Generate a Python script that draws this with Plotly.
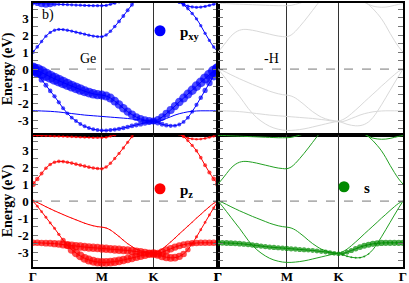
import plotly.graph_objects as go
from plotly.subplots import make_subplots

# ---------------- data ----------------
HS_LABELS = ["Γ", "M", "K", "Γ"]
HS_INDEX = [0, 16, 28, 43]          # k-point index of high-symmetry points
N_K = 44
ENERGY_TICKS = [-3, -2, -1, 0, 1, 2, 3]
ENERGY_TICK_TEXT = ["-3", "-2", "-1", "0", "1", "2", "3"]
E_RANGE = [-3.87, 3.88]

# band energies (eV) along Γ-M-K-Γ
VB1 = [0, -0.08, -0.2, -0.33, -0.45, -0.57, -0.68, -0.79, -0.9, -1.0, -1.1, -1.2, -1.3, -1.38, -1.45, -1.5, -1.53,
       -1.58, -1.7, -1.88, -2.08, -2.3, -2.5, -2.67, -2.82, -2.92, -2.99, -3.03, -3.05,
       -2.97, -2.82, -2.62, -2.4, -2.17, -1.93, -1.7, -1.47, -1.24, -1.0, -0.78, -0.55, -0.33, -0.13, 0]
VB2 = [0, -0.3, -0.62, -0.95, -1.28, -1.6, -1.95, -2.3, -2.6, -2.85, -3.05, -3.22, -3.36, -3.46, -3.53, -3.58, -3.6,
       -3.6, -3.58, -3.55, -3.51, -3.46, -3.4, -3.34, -3.28, -3.22, -3.16, -3.11, -3.07,
       -3.15, -3.24, -3.3, -3.33, -3.32, -3.25, -3.1, -2.85, -2.5, -2.1, -1.68, -1.25, -0.82, -0.4, 0]
VB3 = [-2.45, -2.45, -2.46, -2.47, -2.48, -2.5, -2.52, -2.55, -2.58, -2.61, -2.64, -2.67, -2.7, -2.72, -2.74, -2.76, -2.78,
       -2.8, -2.82, -2.84, -2.86, -2.88, -2.9, -2.93, -2.96, -2.99, -3.03, -3.07, -3.1,
       -3.08, -3.0, -2.9, -2.8, -2.7, -2.62, -2.56, -2.51, -2.48, -2.46, -2.45, -2.45, -2.45, -2.45, -2.45]
CB1 = [1.0, 1.3, 1.62, 1.93, 2.15, 2.28, 2.33, 2.32, 2.28, 2.23, 2.17, 2.11, 2.05, 1.99, 1.94, 1.91, 1.9,
       2.0, 2.22, 2.5, 2.8, 3.12, 3.45, 3.78, 4.1, 4.4, 4.7, 4.9, 5.0,
       4.9, 4.75, 4.55, 4.35, 4.15, 3.97, 3.78, 3.55, 3.27, 2.95, 2.55, 2.1, 1.68, 1.3, 1.0]
CB2 = [3.85, 3.85, 3.84, 3.83, 3.82, 3.81, 3.8, 3.79, 3.78, 3.77, 3.76, 3.75, 3.74, 3.73, 3.72, 3.72, 3.72,
       3.74, 3.8, 3.87, 3.95, 4.05, 4.15, 4.25, 4.35, 4.45, 4.55, 4.6, 4.65,
       4.6, 4.5, 4.35, 4.2, 4.05, 3.92, 3.8, 3.7, 3.65, 3.63, 3.64, 3.68, 3.74, 3.8, 3.85]

# orbital projection weights (0..1)
PXY_VB1 = [1.0, 1.0, 0.98, 0.96, 0.94, 0.92, 0.9, 0.88, 0.86, 0.84, 0.82, 0.8, 0.78, 0.76, 0.74, 0.72, 0.7,
           0.69, 0.68, 0.67, 0.66, 0.65, 0.64, 0.62, 0.6, 0.58, 0.57, 0.56, 0.55,
           0.56, 0.58, 0.6, 0.62, 0.64, 0.66, 0.68, 0.7, 0.72, 0.74, 0.76, 0.78, 0.82, 0.88, 0.95]
PXY_VB2 = [0.9, 0.6, 0.45, 0.38, 0.35, 0.33, 0.32, 0.31, 0.3, 0.3, 0.3, 0.3, 0.3, 0.3, 0.3, 0.3, 0.3,
           0.31, 0.32, 0.33, 0.34, 0.35, 0.36, 0.37, 0.38, 0.4, 0.42, 0.44, 0.45,
           0.42, 0.38, 0.35, 0.32, 0.3, 0.3, 0.3, 0.3, 0.3, 0.32, 0.35, 0.4, 0.5, 0.7, 0.9]
PXY_VB3 = [0, 0, 0, 0, 0, 0, 0, 0, 0, 0, 0, 0, 0, 0, 0, 0, 0,
           0, 0, 0, 0, 0, 0, 0, 0, 0, 0, 0, 0,
           0, 0, 0, 0, 0, 0, 0, 0, 0, 0, 0, 0, 0, 0, 0]
PXY_CB1 = [0.3, 0.28, 0.26, 0.25, 0.25, 0.25, 0.25, 0.25, 0.25, 0.25, 0.25, 0.25, 0.25, 0.25, 0.25, 0.25, 0.25,
           0.26, 0.27, 0.28, 0.29, 0.3, 0.3, 0.3, 0.3, 0.3, 0.3, 0.3, 0.3,
           0.3, 0.3, 0.3, 0.3, 0.3, 0.3, 0.3, 0.28, 0.27, 0.26, 0.25, 0.25, 0.25, 0.26, 0.3]
PXY_CB2 = [0.3, 0.4, 0.55, 0.6, 0.5, 0.35, 0.25, 0.25, 0.25, 0.25, 0.25, 0.25, 0.25, 0.25, 0.25, 0.25, 0.25,
           0.25, 0.25, 0.25, 0.25, 0.25, 0.25, 0.25, 0.25, 0.25, 0.25, 0.25, 0.25,
           0.25, 0.25, 0.25, 0.25, 0.25, 0.25, 0.25, 0.25, 0.25, 0.25, 0.25, 0.25, 0.25, 0.25, 0.3]

PZ_VB1 = [0.1, 0.1, 0.1, 0.1, 0.1, 0.1, 0.1, 0.1, 0.1, 0.1, 0.1, 0.1, 0.1, 0.1, 0.1, 0.1, 0.1,
          0.1, 0.1, 0.1, 0.1, 0.1, 0.1, 0.1, 0.1, 0.1, 0.1, 0.1, 0.1,
          0.1, 0.1, 0.1, 0.1, 0.1, 0.1, 0.1, 0.1, 0.1, 0.1, 0.1, 0.1, 0.1, 0.1, 0.1]
PZ_VB2 = [0.25, 0.22, 0.22, 0.22, 0.22, 0.23, 0.25, 0.4, 0.55, 0.62, 0.65, 0.67, 0.68, 0.68, 0.68, 0.68, 0.68,
          0.68, 0.68, 0.68, 0.67, 0.66, 0.65, 0.64, 0.63, 0.62, 0.62, 0.62, 0.62,
          0.62, 0.62, 0.62, 0.6, 0.58, 0.55, 0.5, 0.42, 0.32, 0.25, 0.22, 0.22, 0.22, 0.22, 0.25]
PZ_VB3 = [0.5, 0.5, 0.5, 0.52, 0.54, 0.56, 0.58, 0.6, 0.62, 0.63, 0.64, 0.65, 0.65, 0.65, 0.65, 0.65, 0.65,
          0.65, 0.65, 0.65, 0.65, 0.64, 0.64, 0.63, 0.63, 0.62, 0.62, 0.61, 0.6,
          0.6, 0.6, 0.6, 0.58, 0.56, 0.55, 0.52, 0.5, 0.5, 0.5, 0.5, 0.5, 0.5, 0.5, 0.5]
PZ_CB1 = [0.45, 0.35, 0.3, 0.28, 0.28, 0.28, 0.28, 0.28, 0.28, 0.28, 0.28, 0.28, 0.28, 0.28, 0.28, 0.28, 0.28,
          0.27, 0.26, 0.25, 0.25, 0.25, 0.25, 0.25, 0.25, 0.25, 0.25, 0.25, 0.25,
          0.25, 0.25, 0.25, 0.25, 0.25, 0.25, 0.25, 0.25, 0.26, 0.27, 0.28, 0.3, 0.32, 0.36, 0.45]
PZ_CB2 = [0.2, 0.2, 0.2, 0.2, 0.2, 0.2, 0.2, 0.2, 0.2, 0.2, 0.2, 0.2, 0.2, 0.2, 0.2, 0.2, 0.2,
          0.2, 0.2, 0.2, 0.2, 0.2, 0.2, 0.2, 0.2, 0.2, 0.2, 0.2, 0.2,
          0.2, 0.2, 0.2, 0.2, 0.2, 0.2, 0.2, 0.2, 0.2, 0.2, 0.2, 0.2, 0.2, 0.2, 0.2]

S_VB1 = PXY_VB3
S_VB2 = [0, 0, 0, 0, 0, 0, 0, 0, 0, 0, 0, 0, 0, 0, 0, 0, 0,
         0, 0, 0, 0, 0, 0, 0, 0, 0, 0, 0, 0,
         0.15, 0.15, 0.15, 0.15, 0.15, 0.15, 0.12, 0, 0, 0, 0, 0, 0, 0, 0]
S_VB3 = [0.45, 0.45, 0.45, 0.44, 0.44, 0.43, 0.43, 0.42, 0.42, 0.42, 0.41, 0.41, 0.4, 0.4, 0.4, 0.4, 0.4,
         0.4, 0.4, 0.39, 0.39, 0.38, 0.38, 0.38, 0.37, 0.37, 0.36, 0.36, 0.36,
         0.37, 0.38, 0.4, 0.42, 0.44, 0.45, 0.46, 0.47, 0.48, 0.48, 0.48, 0.48, 0.48, 0.48, 0.48]
S_CB1 = PXY_VB3
S_CB2 = PXY_VB3

# ---------------- style ----------------
SERIF = "Liberation Serif"
MARKER_SCALE = 13
BANDS = [VB1, VB2, VB3, CB1, CB2]
PANELS = [
    dict(row=1, col=1, line="#0000ff", mark="#0000ff", w=[PXY_VB1, PXY_VB2, PXY_VB3, PXY_CB1, PXY_CB2],
         legend="legend", name="<b>p<sub>xy</sub></b>"),
    dict(row=1, col=2, line="#d9d9d9", mark=None, w=None, legend=None, name=None),
    dict(row=2, col=1, line="#ff0000", mark="#ff0000", w=[PZ_VB1, PZ_VB2, PZ_VB3, PZ_CB1, PZ_CB2],
         legend="legend2", name="<b>p<sub>z</sub></b>"),
    dict(row=2, col=2, line="#22a022", mark="#008a00", w=[S_VB1, S_VB2, S_VB3, S_CB1, S_CB2],
         legend="legend3", name="<b>s</b>"),
]

k = list(range(N_K))
fig = make_subplots(rows=2, cols=2, horizontal_spacing=0, vertical_spacing=0)

for p in PANELS:
    r, c = p["row"], p["col"]
    for E in BANDS:
        fig.add_trace(go.Scatter(x=k, y=E, mode="lines", line=dict(color=p["line"], width=1, shape="spline"),
                                 showlegend=False, hoverinfo="skip"), row=r, col=c)
    if p["w"]:
        for E, W in zip(BANDS, p["w"]):
            fig.add_trace(go.Scatter(x=k, y=E, mode="markers",
                                     marker=dict(color=p["mark"], size=[v * MARKER_SCALE for v in W],
                                                 line=dict(width=0)),
                                     showlegend=False, hoverinfo="skip"), row=r, col=c)
        fig.add_trace(go.Scatter(x=[None], y=[None], mode="markers", name=p["name"],
                                 marker=dict(color=p["mark"], size=11), legend=p["legend"],
                                 showlegend=True), row=r, col=c)
    fig.add_hline(y=0, line=dict(color="#777777", width=1, dash="dash"), layer="below", row=r, col=c)

    fig.update_xaxes(range=[HS_INDEX[0], HS_INDEX[-1]], tickvals=HS_INDEX, ticktext=HS_LABELS,
                     showticklabels=(r == 2), ticks="", showgrid=True, gridcolor="#333333", gridwidth=1,
                     showline=True, linecolor="black", linewidth=1.5, mirror=True, zeroline=False,
                     automargin=False, ticklabelstandoff=-3,
                     tickfont=dict(family=SERIF, size=13, color="black", weight="bold"),
                     row=r, col=c)
    yaxis_kw = dict(range=E_RANGE, tickvals=ENERGY_TICKS, ticktext=ENERGY_TICK_TEXT,
                    showticklabels=(c == 1), ticks="inside", ticklen=5, tickcolor="#777777", tickwidth=1,
                    minor=dict(ticks="inside", dtick=0.5, ticklen=5, tickcolor="#777777", tickwidth=1),
                    showgrid=False, zeroline=False, showline=True, linecolor="black", linewidth=1.5,
                    mirror="ticks", automargin=False,
                    tickfont=dict(family=SERIF, size=13, color="black", weight="bold"))
    if c == 1:
        yaxis_kw["title"] = dict(text="Energy (eV)", standoff=2,
                                 font=dict(family=SERIF, size=14, color="black", weight="bold"))
    fig.update_yaxes(row=r, col=c, **yaxis_kw)

W_PX, H_PX = 370, 264
def px(x, y):
    return (x - 33) / W_PX, 1 - (y - 3) / H_PX

legend_style = dict(bgcolor="rgba(0,0,0,0)", borderwidth=0, xanchor="left", yanchor="middle",
                    font=dict(family=SERIF, size=15, color="black"), itemsizing="trace")
lx, ly = px(161 - 21, 31)
l2x, l2y = px(161 - 21, 189)
l3x, l3y = px(345 - 21, 187)
fig.update_layout(
    legend=dict(x=lx, y=ly, **legend_style),
    legend2=dict(x=l2x, y=l2y, **legend_style),
    legend3=dict(x=l3x, y=l3y, **legend_style),
)

for text, (x, y) in [("b)", (48, 15)), ("Ge", (88, 58)), ("-H", (271, 58))]:
    ax, ay = px(x, y)
    fig.add_annotation(x=ax, y=ay, xref="paper", yref="paper", text=text, showarrow=False,
                       xanchor="center", yanchor="middle",
                       font=dict(family=SERIF, size=14, color="black"))

fig.update_layout(width=409, height=283, margin=dict(l=33, r=6, t=3, b=16),
                  paper_bgcolor="white", plot_bgcolor="white")

fig.write_html("out.html", config={"displayModeBar": False},
               post_script="document.body.style.margin='0px';document.body.style.overflow='hidden';")
